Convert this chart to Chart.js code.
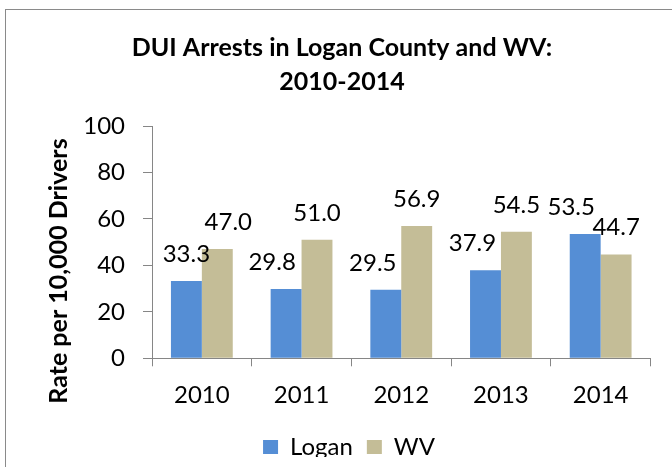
<!DOCTYPE html>
<html>
<head>
<meta charset="utf-8">
<script src="https://cdn.jsdelivr.net/npm/chart.js@4/dist/chart.umd.min.js"></script>
<style>
html,body{margin:0;padding:0;background:#fff;}
#wrap{width:672px;height:467px;}
</style>
</head>
<body>
<div id="wrap"><canvas id="c" width="672" height="467"></canvas></div>
<script>
// ---- data ----
const categories = ['2010', '2011', '2012', '2013', '2014'];
const loganValues = [33.3, 29.8, 29.5, 37.9, 53.5];
const wvValues = [47.0, 51.0, 56.9, 54.5, 44.7];
const seriesNames = ['Logan', 'WV'];
const titleLines = ['DUI Arrests in Logan County and WV:', '2010-2014'];
const yAxisTitle = 'Rate per 10,000 Drivers';
const yMin = 0, yMax = 100, yStep = 20;

// ---- style ----
const FONT = 'Lato';
const BLUE = '#558ED5';
const TAN = '#C4BD97';
const AXIS = '#868686';
const labelShift = [[0, -14, -13, -13, -14], [11, 0, 0, 0, 0]];

const framePlugin = {
  id: 'frame',
  beforeDraw(chart) {
    const ctx = chart.ctx;
    ctx.save();
    ctx.fillStyle = '#fff';
    ctx.fillRect(0, 0, chart.width, chart.height);
    ctx.strokeStyle = '#8a8a8a';
    ctx.lineWidth = 1;
    ctx.strokeRect(5.5, 9.5, 900, 900);
    ctx.restore();
  }
};

const textPlugin = {
  id: 'texts',
  afterDraw(chart) {
    const ctx = chart.ctx;
    ctx.save();
    ctx.fillStyle = '#000';
    ctx.textAlign = 'center';
    ctx.textBaseline = 'alphabetic';
    ctx.font = 'bold 25px ' + FONT;
    ctx.fillText(titleLines[0], 342, 56, 430);
    ctx.fillText(titleLines[1], 342, 90, 430);
    // y axis title
    ctx.translate(67, 271);
    ctx.rotate(-Math.PI / 2);
    ctx.fillText(yAxisTitle, 0, 0, 268);
    ctx.restore();
  }
};

const valueLabelPlugin = {
  id: 'valueLabels',
  afterDatasetsDraw(chart) {
    const ctx = chart.ctx;
    ctx.save();
    ctx.fillStyle = '#000';
    ctx.font = '24px ' + FONT;
    ctx.textAlign = 'center';
    ctx.textBaseline = 'alphabetic';
    chart.data.datasets.forEach((ds, di) => {
      const meta = chart.getDatasetMeta(di);
      meta.data.forEach((bar, i) => {
        ctx.fillText(ds.data[i].toFixed(1), bar.x + labelShift[di][i], bar.y - 19);
      });
    });
    ctx.restore();
  }
};

new Chart(document.getElementById('c'), {
  type: 'bar',
  data: {
    labels: categories,
    datasets: [
      { label: seriesNames[0], data: loganValues, backgroundColor: BLUE, borderWidth: 0 },
      { label: seriesNames[1], data: wvValues, backgroundColor: TAN, borderWidth: 0 }
    ]
  },
  options: {
    responsive: false,
    animation: false,
    devicePixelRatio: 1,
    datasets: { bar: { categoryPercentage: 0.62, barPercentage: 1.0 } },
    layout: { padding: { left: 47.5, right: 21.5, top: 126, bottom: 10 } },
    plugins: {
      title: { display: false },
      tooltip: { enabled: false },
      legend: {
        display: true,
        position: 'bottom',
        maxHeight: 36,
        labels: {
          boxWidth: 15,
          boxHeight: 14,
          padding: 14,
          color: '#000',
          font: { family: FONT, size: 24 }
        }
      }
    },
    scales: {
      x: {
        grid: { display: true, drawOnChartArea: false, drawTicks: true, tickLength: 8, color: AXIS, offset: true },
        border: { display: true, color: AXIS, width: 1 },
        ticks: { color: '#000', font: { family: FONT, size: 24 }, padding: 15, maxRotation: 0 },
        afterFit(scale) { scale.height = 62.7; }
      },
      y: {
        min: yMin, max: yMax,
        ticks: { stepSize: yStep, color: '#000', font: { family: FONT, size: 24 }, padding: 18 },
        grid: { display: true, drawOnChartArea: false, drawTicks: true, tickLength: 9, color: AXIS },
        border: { display: true, color: AXIS, width: 1 },
        afterFit(scale) { scale.width = 104.5; }
      }
    }
  },
  plugins: [framePlugin, textPlugin, valueLabelPlugin]
});
</script>
</body>
</html>
